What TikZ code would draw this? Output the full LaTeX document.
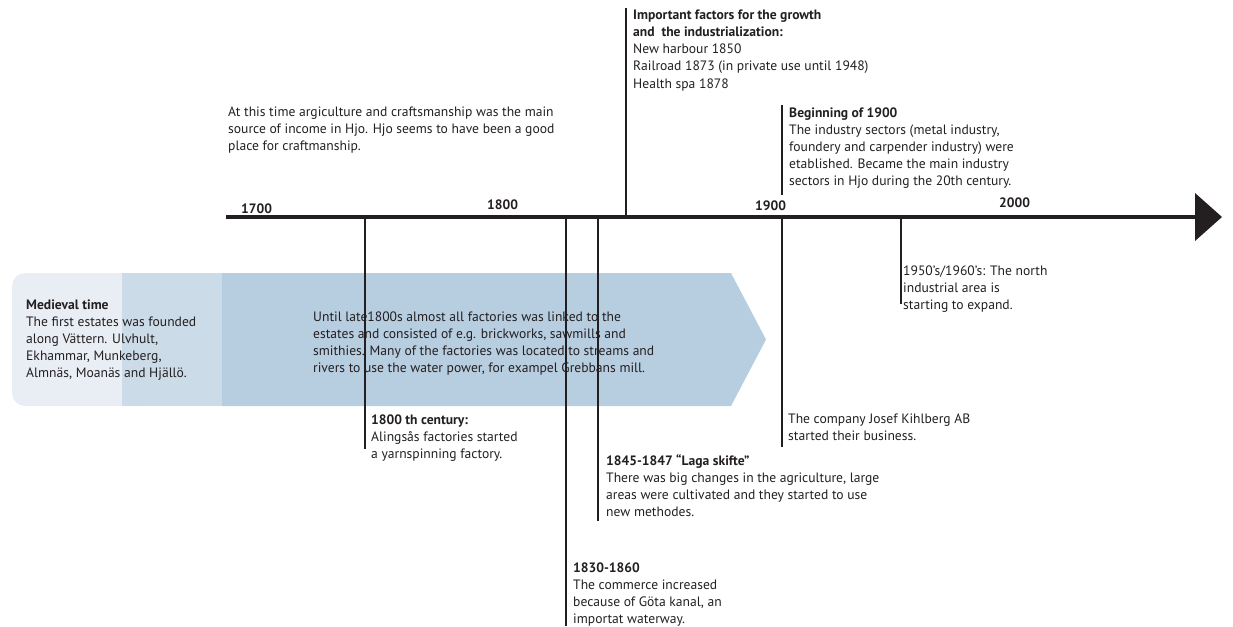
\documentclass[tikz,border=0pt]{standalone}
\usepackage{fontspec}
\setmainfont{PT Sans}
% multi-line label whose baseline is the baseline of its first row
\newcommand{\rowsbox}[1]{\begin{tabular}[t]{@{}l@{}}#1\end{tabular}}
\begin{document}
\definecolor{ink}{HTML}{231F20}
\definecolor{bandA}{HTML}{E9EEF4}
\definecolor{bandB}{HTML}{CCDBE8}
\definecolor{bandC}{HTML}{B7CDE0}
\begin{tikzpicture}[x=1pt,y=-1pt,
  txt/.style={anchor=base west,inner sep=0pt,text=ink,
    font=\fontsize{13.6}{17}\selectfont},
  yearlbl/.style={anchor=base west,inner sep=0pt,text=ink,
    font=\fontsize{13.6}{15}\selectfont\bfseries},
  stem/.style={draw=ink,line width=1.8pt},
  axis/.style={draw=ink,line width=4pt}]
\useasboundingbox (0,0) rectangle (1233,626);

% background band: three tints, arrow-shaped at the right
\fill[bandA,rounded corners=13pt] (12,273) rectangle (160,406);
\fill[bandB] (122,273) rectangle (223,406);
\fill[bandC] (222,273) -- (731,273) -- (766,339.5) -- (731,406) -- (222,406) -- cycle;

% band texts
\node[txt] (medieval) at (26,309) {\rowsbox{\textbf{Medieval time}\\The first estates was founded\\along Vättern. Ulvhult,\\Ekhammar, Munkeberg,\\Almnäs, Moanäs and Hjällö.}};
\node[txt] (factories) at (313,321) {\rowsbox{Until late1800s almost all factories was linked to the\\estates and consisted of e.g. brickworks, sawmills and\\smithies. Many of the factories was located to streams and\\rivers to use the water power, for exampel Grebbans mill.}};

% main axis with arrow head
\coordinate (axL) at (226,216.5);
\coordinate (axR) at (1196,216.5);
\draw[axis] (axL) -- (axR);
\fill[ink] (1195,193) -- (1222,217) -- (1195,241) -- cycle;

% year labels
\node[yearlbl] (y1700) at (241,213) {1700};
\node[yearlbl] (y1800) at (487,209) {1800};
\node[yearlbl] (y1900) at (755,210) {1900};
\node[yearlbl] (y2000) at (999,207) {2000};

% events
\node[txt] (craft) at (228,116) {\rowsbox{At this time argiculture and craftsmanship was the main\\source of income in Hjo. Hjo seems to have been a good\\place for craftmanship.}};
\node[txt] (factors) at (633,20) {\rowsbox{\textbf{Important factors for the growth}\\\textbf{and\ \ the industrialization:}\\New harbour 1850\\Railroad 1873 (in private use until 1948)\\Health spa 1878}};
\node[txt] (begin1900) at (789,117) {\rowsbox{\textbf{Beginning of 1900}\\The industry sectors (metal industry,\\foundery and carpender industry) were\\etablished. Became the main industry\\sectors in Hjo during the 20th century.}};
\node[txt] (north) at (903,275) {\rowsbox{1950’s/1960’s: The north\\industrial area is\\starting to expand.}};
\node[txt] (kihlberg) at (788,423) {\rowsbox{The company Josef Kihlberg AB\\started their business.}};
\node[txt] (c1800) at (371,424) {\rowsbox{\textbf{1800 th century:}\\Alingsås factories started\\a yarnspinning factory.}};
\node[txt] (laga) at (606,465) {\rowsbox{\textbf{1845-1847 “Laga skifte”}\\There was big changes in the agriculture, large\\areas were cultivated and they started to use\\new methodes.}};
\node[txt] (gota) at (573,572) {\rowsbox{\textbf{1830-1860}\\The commerce increased\\because of Göta kanal, an\\importat waterway.}};

% stems joining the events to the axis
\coordinate (a1) at (365,217);  \coordinate (e1) at (365,449);
\coordinate (a2) at (566,217);  \coordinate (e2) at (566,626);
\coordinate (a3) at (598,217);  \coordinate (e3) at (598,521);
\coordinate (a4) at (626,217);  \coordinate (e4) at (626,8);
\coordinate (a5) at (782,217);  \coordinate (e5) at (782,447);
\coordinate (t5) at (782,195);  \coordinate (u5) at (782,105);
\coordinate (a6) at (901,217);  \coordinate (e6) at (901,304);
\draw[stem] (a1) -- (e1);
\draw[stem] (a2) -- (e2);
\draw[stem] (a3) -- (e3);
\draw[stem] (a4) -- (e4);
\draw[stem] (a5) -- (e5);
\draw[stem] (t5) -- (u5);
\draw[stem] (a6) -- (e6);
\end{tikzpicture}
\end{document}
